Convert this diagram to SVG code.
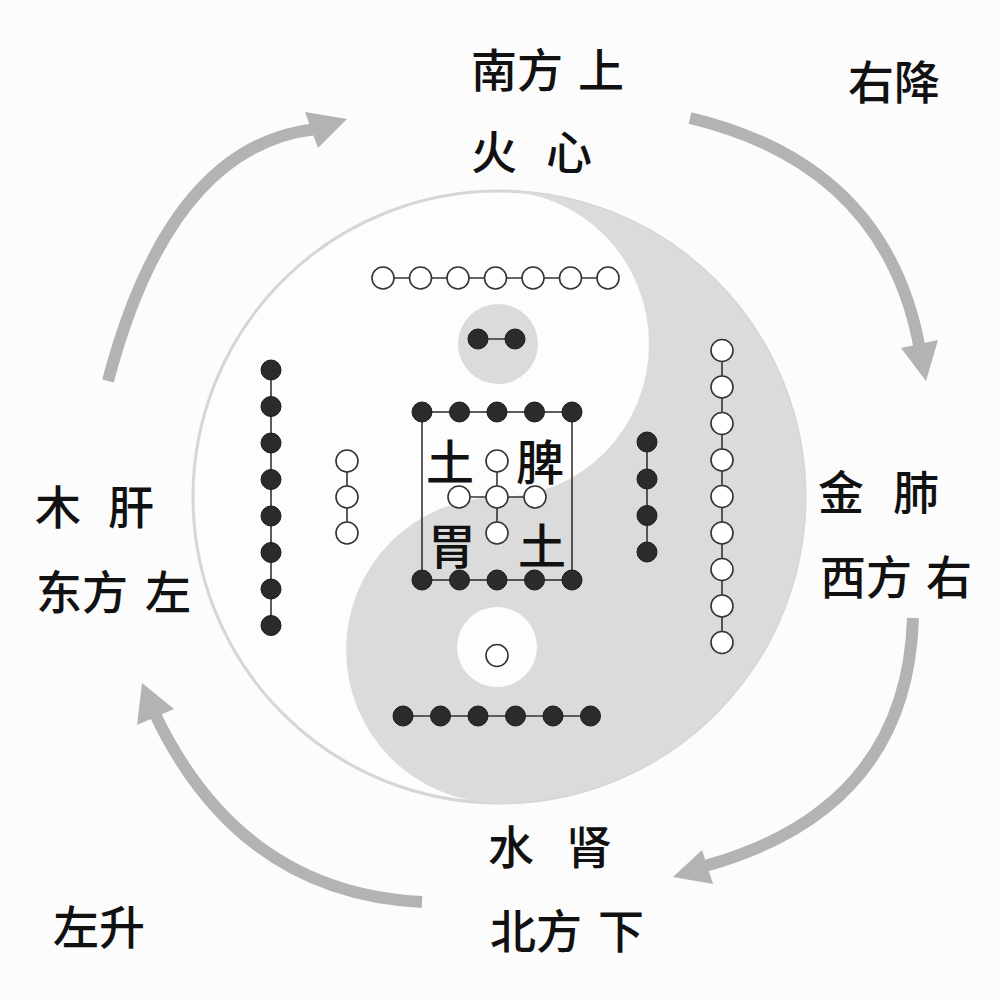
<svg xmlns="http://www.w3.org/2000/svg" width="1000" height="1000" viewBox="0 0 1000 1000">
<style>
.lbl{font-family:"Noto Sans CJK SC","Noto Sans",sans-serif;font-size:46px;font-weight:500;fill:#111}
.in{font-size:48px}
.w{fill:#fff;stroke:#333;stroke-width:1.6}
.b{fill:#2b2b2b;stroke:#1a1a1a;stroke-width:1}
.ln{stroke:#333;stroke-width:1.6;fill:none}
.arr{fill:none;stroke:#b3b3b3;stroke-width:12}
.head{fill:#b3b3b3}
</style>
<rect x="0" y="0" width="1000" height="1000" fill="#fcfcfc"/>

<g id="taiji">
  <circle cx="499" cy="497" r="306" fill="#fdfdfd" stroke="#d6d6d6" stroke-width="3"/>
  <path d="M499,191 A306,306 0 0 1 499,803 A153,153 0 0 1 499,497 A150,153 0 0 0 499,191 Z" fill="#dbdbdb"/>
  <circle cx="498" cy="344" r="40" fill="#dbdbdb"/>
  <circle cx="497" cy="647" r="40" fill="#fdfdfd"/>
</g>

<g id="connectors">
  <path class="arr" d="M108,381 Q170,145 316,129"/>
  <polygon class="head" points="347,119 305,112 318,148"/>
  <path class="arr" d="M690,118 Q887,165 920,350"/>
  <polygon class="head" points="926,381 901,348 938,340"/>
  <path class="arr" d="M913,618 Q907,810 705,866"/>
  <polygon class="head" points="673,877 702,850 713,884"/>
  <path class="arr" d="M422,902 Q239,893 154,712"/>
  <polygon class="head" points="142,683 137,725 174,709"/>
</g>

<g id="dots-top-7">
  <line class="ln" x1="383" y1="278" x2="608" y2="278"/>
  <circle class="w" cx="383" cy="278" r="11"/>
  <circle class="w" cx="420.5" cy="278" r="11"/>
  <circle class="w" cx="458" cy="278" r="11"/>
  <circle class="w" cx="495.5" cy="278" r="11"/>
  <circle class="w" cx="533" cy="278" r="11"/>
  <circle class="w" cx="570.5" cy="278" r="11"/>
  <circle class="w" cx="608" cy="278" r="11"/>
</g>
<g id="dots-top-2">
  <line class="ln" x1="478" y1="339" x2="515" y2="339"/>
  <circle class="b" cx="478" cy="339" r="10"/>
  <circle class="b" cx="515" cy="339" r="10"/>
</g>
<g id="dots-left-8">
  <line class="ln" x1="271" y1="370" x2="271" y2="625.5"/>
  <circle class="b" cx="271" cy="370" r="10"/>
  <circle class="b" cx="271" cy="406.5" r="10"/>
  <circle class="b" cx="271" cy="443" r="10"/>
  <circle class="b" cx="271" cy="479.5" r="10"/>
  <circle class="b" cx="271" cy="516" r="10"/>
  <circle class="b" cx="271" cy="552.5" r="10"/>
  <circle class="b" cx="271" cy="589" r="10"/>
  <circle class="b" cx="271" cy="625.5" r="10"/>
</g>
<g id="dots-left-3">
  <line class="ln" x1="347" y1="461" x2="347" y2="533"/>
  <circle class="w" cx="347" cy="461" r="11"/>
  <circle class="w" cx="347" cy="497" r="11"/>
  <circle class="w" cx="347" cy="533" r="11"/>
</g>
<g id="dots-center-10">
  <rect x="422" y="412" width="150" height="168" class="ln"/>
  <circle class="b" cx="422" cy="412" r="10"/>
  <circle class="b" cx="459.5" cy="412" r="10"/>
  <circle class="b" cx="497" cy="412" r="10"/>
  <circle class="b" cx="534.5" cy="412" r="10"/>
  <circle class="b" cx="572" cy="412" r="10"/>
  <circle class="b" cx="422" cy="580" r="10"/>
  <circle class="b" cx="459.5" cy="580" r="10"/>
  <circle class="b" cx="497" cy="580" r="10"/>
  <circle class="b" cx="534.5" cy="580" r="10"/>
  <circle class="b" cx="572" cy="580" r="10"/>
</g>
<g id="dots-center-5">
  <line class="ln" x1="497" y1="461" x2="497" y2="533"/>
  <line class="ln" x1="459" y1="497" x2="535" y2="497"/>
  <circle class="w" cx="497" cy="461" r="11"/>
  <circle class="w" cx="459" cy="497" r="11"/>
  <circle class="w" cx="497" cy="497" r="11"/>
  <circle class="w" cx="535" cy="497" r="11"/>
  <circle class="w" cx="497" cy="533" r="11"/>
</g>
<g id="dots-right-4">
  <line class="ln" x1="647" y1="442" x2="647" y2="552"/>
  <circle class="b" cx="647" cy="442" r="10"/>
  <circle class="b" cx="647" cy="479" r="10"/>
  <circle class="b" cx="647" cy="515.5" r="10"/>
  <circle class="b" cx="647" cy="552" r="10"/>
</g>
<g id="dots-right-9">
  <line class="ln" x1="722" y1="350.5" x2="722" y2="642.5"/>
  <circle class="w" cx="722" cy="350.5" r="11"/>
  <circle class="w" cx="722" cy="387" r="11"/>
  <circle class="w" cx="722" cy="423.5" r="11"/>
  <circle class="w" cx="722" cy="460" r="11"/>
  <circle class="w" cx="722" cy="496.5" r="11"/>
  <circle class="w" cx="722" cy="533" r="11"/>
  <circle class="w" cx="722" cy="569.5" r="11"/>
  <circle class="w" cx="722" cy="606" r="11"/>
  <circle class="w" cx="722" cy="642.5" r="11"/>
</g>
<g id="dots-bottom-1">
  <circle class="w" cx="497" cy="655.5" r="11"/>
</g>
<g id="dots-bottom-6">
  <line class="ln" x1="403" y1="716" x2="590.5" y2="716"/>
  <circle class="b" cx="403" cy="716" r="10"/>
  <circle class="b" cx="440.5" cy="716" r="10"/>
  <circle class="b" cx="478" cy="716" r="10"/>
  <circle class="b" cx="515.5" cy="716" r="10"/>
  <circle class="b" cx="553" cy="716" r="10"/>
  <circle class="b" cx="590.5" cy="716" r="10"/>
</g>

<g id="center-labels">
  <text class="lbl in" x="426" y="480">土</text>
  <text class="lbl in" x="516" y="480">脾</text>
  <text class="lbl in" x="428" y="564">胃</text>
  <text class="lbl in" x="518" y="564">土</text>
</g>

<g id="label-south">
  <text class="lbl" x="471" y="87">南方 <tspan x="578">上</tspan></text>
  <text class="lbl" x="471" y="169">火 <tspan x="546">心</tspan></text>
</g>
<g id="label-right-descend">
  <text class="lbl" x="848" y="99">右降</text>
</g>
<g id="label-east">
  <text class="lbl" x="35" y="524">木 <tspan x="108">肝</tspan></text>
  <text class="lbl" x="36" y="609">东方 <tspan x="145">左</tspan></text>
</g>
<g id="label-west">
  <text class="lbl" x="818" y="509">金 <tspan x="893">肺</tspan></text>
  <text class="lbl" x="820" y="594">西方 <tspan x="926">右</tspan></text>
</g>
<g id="label-north">
  <text class="lbl" x="488" y="864">水 <tspan x="566">肾</tspan></text>
  <text class="lbl" x="490" y="948">北方 <tspan x="598">下</tspan></text>
</g>
<g id="label-left-ascend">
  <text class="lbl" x="53" y="944">左升</text>
</g>
</svg>
